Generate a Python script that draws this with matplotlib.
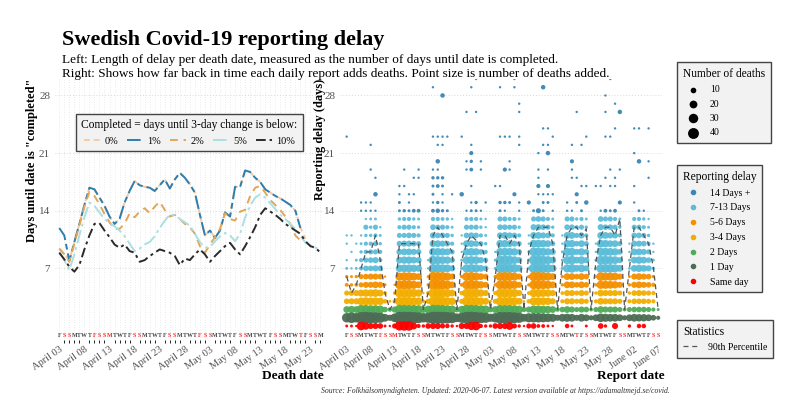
import numpy as np
import pandas as pd
import matplotlib
matplotlib.use('Agg')
import matplotlib.pyplot as plt
from matplotlib.lines import Line2D

plt.rcParams['font.family'] = ['Liberation Serif', 'DejaVu Serif']

START = pd.Timestamp('2020-04-03')
HOLIDAYS = ['2020-04-10', '2020-04-13', '2020-05-01', '2020-05-21', '2020-06-06']

# left panel: days until a death date is "completed", one value per death date from April 3
completed_0 = [9.4, 8.8, 7.9, 10.2, 12.4, 14.7, 16.8, 16.6, 15.6, 14.6, 13.3, 12.4, 13.0, 15.0, 16.4,
               17.6, 17.1, 16.9, 16.8, 16.4, 17.1, 17.8, 16.7, 17.8, 18.6, 18.0, 17.2, 16.2, 13.5, 11.0,
               11.6, 10.7, 11.6, 13.8, 13.3, 16.9, 16.9, 18.9, 18.7, 18.0, 17.5, 16.6, 16.2, 15.8, 15.5,
               15.1, 14.7, 14.0, 12.0, 10.6]
completed_1 = [11.9, 11.0, 7.9, 10.2, 12.4, 14.7, 16.8, 16.6, 15.6, 14.6, 13.3, 12.4, 13.0, 15.0, 16.4,
               17.6, 17.1, 16.9, 16.8, 16.4, 17.1, 17.8, 16.7, 17.8, 18.6, 18.0, 17.2, 16.2, 13.5, 11.0,
               11.6, 10.7, 11.6, 13.8, 13.3, 16.9, 16.9, 18.9, 18.7, 18.0, 17.5, 16.6, 16.2, 15.8, 15.5,
               15.1, 14.7, 14.0, 11.9]
completed_2 = [9.4, 8.7, 7.8, 10.0, 12.2, 14.5, 16.3, 15.8, 14.8, 13.6, 12.6, 11.8, 11.8, 12.4, 13.7,
               13.2, 13.9, 14.3, 13.7, 14.5, 15.1, 14.1, 13.3, 13.5, 13.0, 12.4, 12.0, 11.2, 9.7, 8.9,
               9.9, 10.8, 11.8, 13.7, 13.0, 12.8, 13.9, 14.1, 15.8, 16.8, 17.0, 16.2, 15.3, 14.7, 14.1,
               13.3, 12.4, 11.0, 10.4]
completed_5 = [9.0, 8.0, 6.8, 8.7, 11.0, 13.2, 15.0, 14.6, 13.8, 13.0, 12.5, 12.1, 11.6, 10.9, 10.0,
               9.1, 9.4, 9.9, 10.2, 10.9, 11.9, 12.8, 13.5, 13.5, 13.0, 12.6, 12.2, 11.2, 10.2, 9.5,
               9.6, 10.3, 10.9, 11.3, 11.0, 10.3, 11.2, 13.2, 14.6, 15.6, 16.0, 15.6, 14.9, 14.2, 13.5,
               13.0, 12.4, 11.8, 11.0, 10.1, 9.8, 9.5, 9.4]
completed_10 = [8.9, 8.1, 7.2, 6.6, 7.4, 9.3, 11.0, 12.4, 12.5, 11.6, 10.8, 9.9, 9.5, 9.9, 9.1,
                8.9, 7.8, 8.0, 8.5, 8.9, 9.3, 9.1, 8.9, 8.5, 7.4, 8.2, 8.0, 8.7, 9.3, 8.7,
                7.8, 8.5, 9.1, 9.7, 10.1, 9.3, 8.7, 9.7, 10.8, 12.0, 13.5, 14.3, 13.9, 13.5, 13.0,
                12.4, 12.0, 11.6, 11.2, 10.3, 9.7, 9.5, 8.9]
line_labels = ['0%', '1%', '2%', '5%', '10%']
line_colors = ['#f6c9a2', '#2c7eae', '#e2a657', '#abdfe3', '#2a2a2a']
line_styles = [(0, (3, 2)), (0, (7, 2, 3, 2)), (0, (4, 3)), (0, (7, 2, 1.5, 2)), (0, (5, 2, 1.5, 2))]

# right panel: deaths added in each daily report, by delay 0..13 days (one string per report date)
report_counts = [
    "2 30 15 10 8 4 3 2 1 0 1 1 0 0",       # Apr 03
    "2 38 18 12 10 3 2 1 0 1 0 1 0 0",
    "1 30 15 12 12 4 3 2 2 0 1 0 0 0",
    "25 45 28 20 16 8 8 5 5 3 2 1 0 0",
    "18 48 28 22 18 12 10 10 8 6 5 3 8 1",
    "12 42 25 20 18 12 12 10 10 8 5 3 3 2",
    "12 40 25 20 20 15 12 12 12 8 8 5 8 2",
    "10 35 22 18 15 12 10 10 5 5 3 2 1 0",  # Apr 10
    "2 20 10 6 4 2 1 0 0 0 0 0 0 0",
    "1 12 6 2 0 0 0 0 0 0 0 0 0 0",
    "8 25 12 5 3 1 0 0 0 0 0 0 0 0",
    "28 48 30 25 25 25 22 18 15 12 10 8 5 3",
    "30 50 30 28 25 28 25 20 18 15 12 8 8 5",
    "30 48 28 25 25 25 25 20 18 15 12 10 8 5",
    "15 45 28 22 22 22 20 18 15 12 10 8 5 3",
    "5 40 25 20 18 15 15 15 12 10 8 5 3 2",
    "3 30 15 3 1 0 0 0 0 0 0 0 0 0",
    "10 35 20 8 5 3 2 1 1 0 0 0 0 0",        # Apr 20
    "12 50 30 28 28 30 30 25 25 20 15 12 10 5",
    "12 50 30 30 28 30 28 25 22 20 15 10 8 5",
    "8 48 28 28 25 28 28 22 20 18 12 10 8 4",
    "6 45 25 22 22 25 22 20 18 15 10 8 5 3",
    "3 40 22 18 15 15 12 12 10 8 5 3 2 1",
    "1 25 10 2 0 0 0 0 0 0 0 0 0 0",
    "12 35 18 8 6 4 3 3 2 1 1 1 0 0",        # Apr 27
    "12 48 30 28 25 25 25 22 20 18 15 10 8 5",
    "22 50 30 28 28 28 28 25 22 20 15 12 8 5",
    "25 45 28 25 25 25 22 22 20 18 12 10 8 5",
    "5 40 25 20 18 18 15 15 12 10 8 5 3 2",
    "3 35 22 15 12 12 10 10 8 5 3 2 1 1",
    "3 22 10 2 0 0 0 0 0 0 0 0 0 0",
    "10 30 15 8 5 3 3 2 2 1 0 0 0 0",        # May 04
    "12 45 28 25 25 25 25 28 25 20 18 12 10 8",
    "12 45 28 25 25 25 28 30 28 22 18 15 10 8",
    "20 45 28 25 25 25 25 28 25 20 15 12 8 5",
    "8 40 25 22 22 22 22 25 20 18 12 10 8 5",
    "3 35 20 15 12 12 12 15 12 10 8 5 3 2",
    "1 20 8 1 0 0 0 0 0 0 0 0 0 0",
    "8 28 12 6 4 3 3 3 2 2 1 1 0 0",         # May 11
    "10 30 22 22 22 25 28 30 28 25 20 15 12 8",
    "4 30 22 22 22 25 28 30 28 25 20 15 12 10",
    "4 28 20 20 20 25 25 28 25 22 18 12 10 8",
    "2 25 18 18 18 22 22 25 22 18 15 10 8 5",
    "1 22 15 12 12 15 15 18 15 12 8 5 3 2",
    "0 12 6 1 0 0 0 0 0 0 0 0 0 0",
    "0 20 10 5 4 3 3 3 2 2 1 1 0 0",         # May 18
    "6 22 15 12 12 15 15 22 22 22 18 15 10 8",
    "2 20 12 12 12 15 15 25 25 22 18 15 10 8",
    "0 12 8 8 8 10 10 15 15 12 10 8 5 3",
    "0 20 12 12 12 15 15 20 20 18 15 12 8 5",
    "2 15 10 8 8 10 10 12 12 10 8 5 3 2",
    "0 8 4 1 0 0 0 0 0 0 0 0 0 0",
    "0 15 8 5 3 3 2 2 2 1 1 0 0 0",          # May 25
    "10 25 15 15 15 22 25 25 25 22 20 15 12 10",
    "3 22 12 12 12 22 22 25 25 22 18 15 10 8",
    "0 20 12 12 12 20 22 25 22 20 15 12 10 8",
    "12 20 12 12 12 18 20 22 20 18 15 12 8 5",
    "0 15 8 8 8 12 12 15 12 10 8 5 3 2",
    "0 8 4 1 0 0 0 0 0 0 0 0 0 0",
    "3 15 8 5 3 3 2 2 2 1 1 0 0 0",          # Jun 01
    "0 20 10 10 10 12 12 15 15 15 12 10 8 5",
    "6 18 10 10 12 15 15 18 18 15 12 10 8 5",
    "6 18 10 10 10 12 12 15 15 12 10 8 5 3",
    "0 15 8 8 8 10 10 12 10 8 5 3 2 1",
    "0 10 5 5 5 5 3 3 2 1 1 0 0 0",
    "0 5 2 0 0 0 0 0 0 0 0 0 0 0",           # Jun 07
]

# deaths reported 14+ days late: (report day since Apr 03, delay, deaths)
late_reports = [
    (0, 23, 1), (3, 14, 1), (3, 15, 1), (4, 14, 1), (4, 15, 1), (5, 14, 1), (5, 15, 1), (5, 19, 1),
    (5, 22, 1), (6, 14, 1), (6, 16, 6), (6, 18, 1),
    (11, 14, 2), (11, 15, 2), (11, 16, 1), (11, 17, 1), (12, 14, 3), (12, 17, 1), (12, 19, 1),
    (13, 14, 2), (13, 15, 1), (13, 16, 1), (14, 14, 4), (14, 16, 1), (14, 18, 1), (15, 14, 4),
    (15, 18, 1), (15, 19, 1),
    (18, 14, 4), (18, 15, 1), (18, 16, 2), (18, 17, 2), (18, 18, 3), (18, 19, 1), (18, 23, 1),
    (18, 29, 1), (19, 14, 6), (19, 15, 3), (19, 17, 4), (19, 18, 3), (19, 19, 1), (19, 20, 6),
    (19, 22, 1), (19, 23, 1), (20, 14, 3), (20, 15, 1), (20, 16, 1), (20, 17, 2), (20, 18, 3),
    (20, 22, 1), (20, 23, 1), (20, 28, 6), (21, 14, 2), (21, 23, 1), (22, 16, 1),
    (24, 16, 6), (24, 23, 1), (25, 14, 1), (25, 19, 1), (25, 20, 1), (25, 26, 1), (26, 14, 2),
    (26, 15, 1), (26, 17, 1), (26, 19, 4), (26, 20, 3), (26, 21, 5), (26, 22, 1), (26, 29, 1),
    (27, 14, 2), (27, 15, 3), (27, 26, 1), (27, 30, 1), (28, 14, 1), (28, 19, 1), (28, 20, 1),
    (29, 15, 1),
    (31, 17, 1), (32, 14, 2), (32, 15, 3), (32, 17, 1), (32, 23, 1), (32, 29, 1), (33, 14, 1),
    (33, 15, 3), (33, 19, 5), (33, 23, 1), (34, 15, 2), (34, 19, 1), (34, 20, 1), (34, 23, 1),
    (35, 16, 5), (35, 29, 1), (35, 30, 1), (36, 14, 1), (36, 15, 1), (36, 22, 1), (36, 23, 1),
    (36, 26, 1), (36, 27, 1),
    (38, 15, 5), (39, 14, 2), (40, 14, 8), (40, 16, 1), (40, 17, 5), (40, 18, 1), (40, 19, 1),
    (40, 21, 1), (41, 14, 2), (41, 15, 2), (41, 16, 1), (41, 22, 1), (41, 24, 1), (41, 29, 6),
    (42, 15, 2), (42, 16, 1), (42, 17, 5), (42, 19, 1), (42, 21, 6), (42, 22, 1), (42, 24, 1),
    (43, 14, 1), (43, 16, 1), (43, 23, 1),
    (46, 14, 1), (46, 15, 1), (47, 14, 1), (47, 18, 1), (47, 19, 1), (47, 20, 5), (47, 22, 1),
    (48, 15, 2), (48, 16, 5), (48, 18, 1), (48, 26, 1), (49, 14, 2), (49, 17, 1), (49, 22, 1),
    (50, 15, 6), (50, 17, 1), (50, 23, 1),
    (52, 17, 1), (53, 14, 1), (53, 17, 1), (54, 14, 4), (54, 18, 1), (54, 23, 1), (54, 26, 1),
    (54, 28, 1), (55, 14, 2), (55, 17, 1), (55, 19, 1), (55, 23, 1), (55, 30, 1), (56, 14, 4),
    (56, 17, 1), (56, 18, 1), (56, 24, 1), (56, 27, 1), (57, 15, 5), (57, 19, 1), (57, 26, 6),
    (60, 15, 1), (60, 17, 1), (60, 21, 1), (60, 24, 1), (61, 14, 2), (61, 20, 6), (61, 24, 1),
    (62, 14, 1), (63, 18, 1), (63, 20, 1), (63, 24, 1),
]

delay_groups = ['14 Days +', '7-13 Days', '5-6 Days', '3-4 Days', '2 Days', '1 Day', 'Same day']
group_colors = ['#3a86b4', '#5bbcd8', '#f39000', '#f2ae00', '#50aa58', '#4d6b55', '#ff0000']


def group_of(delay):
    if delay >= 14:
        return 0
    if delay >= 7:
        return 1
    if delay >= 5:
        return 2
    if delay >= 3:
        return 3
    if delay == 2:
        return 4
    if delay == 1:
        return 5
    return 6


def dot_size(n):
    return 1.5 + 1.5 * np.asarray(n, dtype=float)


# long table of (report day, delay, deaths)
rows = []
for r, s in enumerate(report_counts):
    for d, n in enumerate(int(v) for v in s.split()):
        if n > 0:
            rows.append((r, d, n))
rows += late_reports
df = pd.DataFrame(rows, columns=['report', 'delay', 'deaths'])
df['group'] = df['delay'].apply(group_of)

p90 = []
for r in range(len(report_counts)):
    sub = df[df['report'] == r]
    p90.append(np.quantile(np.repeat(sub['delay'].values, sub['deaths'].values), 0.9))

fig = plt.figure(figsize=(8, 4.18), dpi=100)
ax1 = fig.add_axes([55 / 800, 78 / 418, 269 / 800, 261 / 418])
ax2 = fig.add_axes([340 / 800, 78 / 418, 322 / 800, 261 / 418])

grey = '#555555'
for ax in (ax1, ax2):
    ax.set_ylim(-1.7, 30)
    ax.set_yticks([7, 14, 21, 28])
    ax.grid(axis='y', ls=(0, (1, 2)), color='#d9d9d9', lw=0.7)
    for sp in ax.spines.values():
        sp.set_visible(False)
    ax.tick_params(length=0, labelsize=8, labelcolor=grey)
    ax.set_axisbelow(True)

# left panel
n_left = 53
ax1.set_xlim(-0.85, 52.7)
ax1.set_xticks(np.arange(n_left), minor=True)
ax1.grid(axis='x', which='both', ls=(0, (1, 2)), color='#e3e3e3', lw=0.6)
series = [completed_0, completed_1, completed_2, completed_5, completed_10]
handles = []
for vals, lab, col, ls in zip(series, line_labels, line_colors, line_styles):
    ax1.plot(np.arange(len(vals)), vals, color=col, ls=ls, lw=1.4)
    handles.append(Line2D([], [], color=col, ls=ls, lw=1.4))
leg = ax1.legend(handles, line_labels, ncol=5, loc='upper center', bbox_to_anchor=(0.5, 0.885),
                 title='Completed = days until 3-day change is below:', fontsize=7.5, title_fontsize=8.3,
                 handlelength=1.6, columnspacing=0.8, handletextpad=0.4, fancybox=False,
                 facecolor='#f2f2f2', edgecolor='#444444', framealpha=1, borderpad=0.5)
leg.get_frame().set_linewidth(1.0)

# right panel
n_right = len(report_counts)
ax2.set_xlim(-1.4, 65.8)
for g in range(len(delay_groups)):
    sub = df[df['group'] == g]
    ax2.scatter(sub['report'], sub['delay'], s=dot_size(sub['deaths']), color=group_colors[g],
                linewidths=0, alpha=0.95, zorder=2)
ax2.plot(np.arange(n_right), p90, color='#555555', ls=(0, (4, 3)), lw=0.9, zorder=3)


def weekday_row(ax, n):
    for i in range(n):
        day = START + pd.Timedelta(days=i)
        red = day.weekday() >= 5 or day.strftime('%Y-%m-%d') in HOLIDAYS
        ax.text(i, -1.15, 'MTWTFSS'[day.weekday()], ha='center', va='center', fontsize=4.3,
                color='#ff2020' if red else '#444444', fontweight='bold')


def date_ticks(ax, n):
    ticks = np.arange(0, n, 5)
    ax.set_xticks(ticks)
    ax.set_xticklabels([(START + pd.Timedelta(days=int(t))).strftime('%B %d') for t in ticks],
                       rotation=35, ha='right', rotation_mode='anchor', fontsize=7.5)


weekday_row(ax1, n_left)
weekday_row(ax2, n_right)
date_ticks(ax1, n_left)
date_ticks(ax2, n_right)

ax1.set_ylabel('Days until date is "completed"', loc='top', fontweight='bold', fontsize=9)
ax1.yaxis.set_label_coords(-0.065, 1.0)
ax2.set_ylabel('Reporting delay (days)', loc='top', fontweight='bold', fontsize=9)
ax2.yaxis.set_label_coords(-0.045, 1.0)

fig.text(324 / 800, 1 - 376 / 418, 'Death date', ha='right', va='center', fontweight='bold', fontsize=9.5)
fig.text(665 / 800, 1 - 376 / 418, 'Report date', ha='right', va='center', fontweight='bold', fontsize=9.5)

fig.text(62 / 800, 1 - 40 / 418, 'Swedish Covid-19 reporting delay', fontsize=16, fontweight='bold', va='center')
fig.text(62 / 800, 1 - 60 / 418, 'Left: Length of delay per death date, measured as the number of days until date is completed.',
         fontsize=9.5, va='center')
fig.text(62 / 800, 1 - 74 / 418, 'Right: Shows how far back in time each daily report adds deaths. Point size is number of deaths added.',
         fontsize=9.5, va='center')
fig.text(670 / 800, 1 - 391 / 418,
         'Source: Folkhälsomyndigheten. Updated: 2020-06-07. Latest version available at https://adamaltmejd.se/covid.',
         fontsize=5.6, style='italic', ha='right', va='center', color='#333333')

# legends on the right
legend_style = dict(loc='upper left', fancybox=False, facecolor='#f2f2f2', edgecolor='#444444',
                    framealpha=1, fontsize=7, title_fontsize=8.3, alignment='left', borderpad=0.6,
                    borderaxespad=0)
size_vals = [10, 20, 30, 40]
size_handles = [plt.scatter([], [], s=dot_size(v), color='black', linewidths=0) for v in size_vals]
l1 = fig.legend(size_handles, [str(v) for v in size_vals], title='Number of deaths',
                bbox_to_anchor=(677 / 800, 1 - 62 / 418), labelspacing=0.55, **legend_style)
delay_handles = [Line2D([], [], marker='o', ls='', color=c, markersize=3) for c in group_colors]
l2 = fig.legend(delay_handles, delay_groups, title='Reporting delay',
                bbox_to_anchor=(677 / 800, 1 - 165 / 418), labelspacing=0.6, **legend_style)
l3 = fig.legend([Line2D([], [], color='#555555', ls=(0, (4, 3)), lw=0.9)], ['90th Percentile'],
                title='Statistics', bbox_to_anchor=(677 / 800, 1 - 320 / 418), handlelength=1.8, **legend_style)
for l in (l1, l2, l3):
    l.get_frame().set_linewidth(1.0)

fig.savefig('out.png', dpi=100)
